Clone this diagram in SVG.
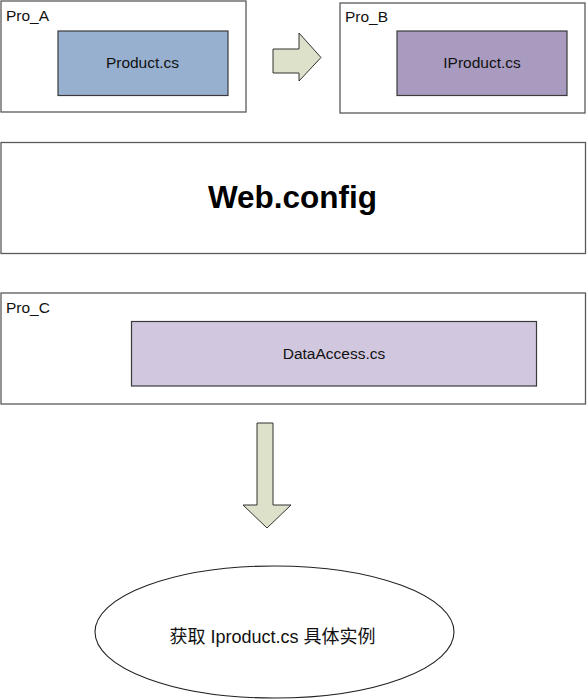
<svg xmlns="http://www.w3.org/2000/svg" width="587" height="700" viewBox="0 0 587 700">
<style>
.box{fill:#fff;stroke:#5a5a5a;stroke-width:1.3}
.inner{stroke:#3a3a3a;stroke-width:1.2}
.lbl{font-family:"Liberation Sans",Arial,sans-serif;font-size:15.5px;fill:#111}
.ctr{text-anchor:middle}
.arrow{fill:#dde1ca;stroke:#333;stroke-width:1}
</style>
<rect width="587" height="700" fill="#fff"/>
<g id="pro_a">
<rect class="box" x="1" y="1" width="245" height="111"/>
<text class="lbl" x="6" y="21">Pro_A</text>
<rect id="product" class="inner" x="58" y="31" width="170" height="64.5" fill="#98b0cf"/>
<text class="lbl ctr" x="142.5" y="68">Product.cs</text>
</g>
<g id="pro_b">
<rect class="box" x="340" y="3" width="245" height="110"/>
<text class="lbl" x="345" y="22">Pro_B</text>
<rect id="iproduct" class="inner" x="397" y="31" width="170" height="64.5" fill="#a99bbf"/>
<text class="lbl ctr" x="482" y="68">IProduct.cs</text>
</g>
<g id="webconfig">
<rect class="box" x="1" y="142.5" width="584.5" height="111"/>
<text x="292.5" y="208" text-anchor="middle" style="font-family:'Liberation Sans',Arial,sans-serif;font-size:31.5px;font-weight:bold;fill:#000">Web.config</text>
</g>
<g id="pro_c">
<rect class="box" x="1" y="293" width="584.5" height="111"/>
<text class="lbl" x="6" y="313">Pro_C</text>
<rect id="dataaccess" class="inner" x="131.5" y="321.5" width="405" height="64.5" fill="#d1c8df"/>
<text class="lbl ctr" x="334" y="359">DataAccess.cs</text>
</g>
<g id="result">
<ellipse cx="274.5" cy="632" rx="179.5" ry="66" fill="#fff" stroke="#222" stroke-width="1.1"/>
<text class="ctr" x="272.5" y="643" style="font-family:'Liberation Sans','Noto Sans CJK SC',sans-serif;font-size:18px;fill:#111">获取 Iproduct.cs 具体实例</text>
</g>
<g id="connectors">
<polygon class="arrow" points="273,49 299,49 299,33 321,57.5 299,81 299,73 273,73"/>
<polygon class="arrow" points="257,423 273,423 273,505 291,505 267,528 243,505 257,505"/>
</g>
</svg>
